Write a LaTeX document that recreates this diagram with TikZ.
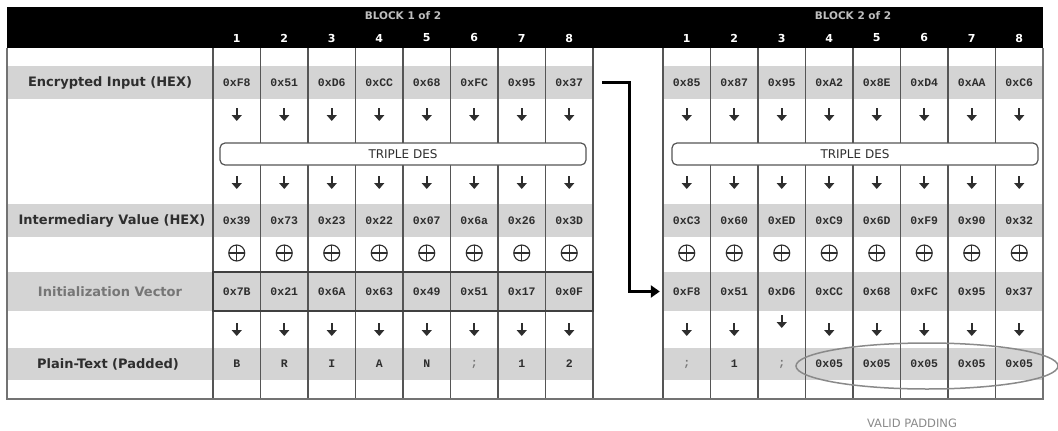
\documentclass[tikz,border=0pt]{standalone}
\usepackage{fontspec}
\setmainfont{DejaVu Sans}
\newfontfamily\hexfont{Liberation Mono}
\usetikzlibrary{arrows.meta}

\definecolor{bandgray}{HTML}{D4D4D4}
\definecolor{linegray}{HTML}{555555}
\definecolor{textgray}{HTML}{2E2E2E}
\definecolor{softgray}{HTML}{767676}
\definecolor{ringgray}{HTML}{8A8A8A}

\tikzset{
  cellval/.style={font=\hexfont\bfseries\fontsize{11.5}{12}\selectfont, text=textgray,
    minimum width=47.5, minimum height=33, inner sep=0pt},
  rowlabel/.style={font=\bfseries\fontsize{13}{14}\selectfont, text=textgray},
  blocktitle/.style={font=\bfseries\fontsize{10.5}{11}\selectfont, text=black!25},
  colnum/.style={font=\bfseries\fontsize{11}{12}\selectfont, text=white},
  desbox/.style={draw=linegray, line width=1.2pt, fill=white, rounded corners=5pt,
    minimum width=366, minimum height=22, inner sep=0pt,
    font=\fontsize{12}{13}\selectfont, text=textgray},
  dnarrow/.style={-{Triangle[width=10pt,length=6pt]}, line width=1.6pt, textgray},
  xorsym/.style={line width=1.1pt, textgray},
  gridline/.style={line width=1.4pt, linegray},
  bigarrow/.style={-{Triangle[width=12pt,length=9pt]}, line width=2.6pt, black}
}

\begin{document}
\begin{tikzpicture}[x=1pt,y=-1pt]
  \useasboundingbox (0,0) rectangle (1058,431);

  % Header bar
  \fill (7,7) rectangle (1043,48);
  \node[blocktitle] (title1) at (403,16) {BLOCK 1 of 2};
  \node[blocktitle] (title2) at (853,16) {BLOCK 2 of 2};
  \foreach \i in {1,...,8} {
    \node[colnum] (n1-\i) at ({213+47.5*(\i-0.5)},38) {\i};
    \node[colnum] (n2-\i) at ({663+47.5*(\i-0.5)},38) {\i};
  }

  % Grey bands of the data rows
  \foreach \top/\bot in {66/99, 204/237, 272/311, 348/380} {
    \fill[bandgray] (7,\top) rectangle (593,\bot);
    \fill[bandgray] (663,\top) rectangle (1043,\bot);
  }

  % Row labels
  \node[rowlabel] (lenc) at (110,82.5) {Encrypted Input (HEX)};
  \node[rowlabel] (lint) at (112,220.5) {Intermediary Value (HEX)};
  \node[rowlabel, text=softgray] (liv) at (110,291.5) {Initialization Vector};
  \node[rowlabel] (lpt) at (108,364) {Plain-Text (Padded)};

  % Block 1 values
  \foreach \v [count=\i] in {0xF8,0x51,0xD6,0xCC,0x68,0xFC,0x95,0x37}
    \node[cellval] (e1-\i) at ({213+47.5*(\i-0.5)},82.5) {\v};
  \foreach \v [count=\i] in {0x39,0x73,0x23,0x22,0x07,0x6a,0x26,0x3D}
    \node[cellval] (m1-\i) at ({213+47.5*(\i-0.5)},220.5) {\v};
  \foreach \v [count=\i] in {0x7B,0x21,0x6A,0x63,0x49,0x51,0x17,0x0F}
    \node[cellval] (v1-\i) at ({213+47.5*(\i-0.5)},291.5) {\v};
  \foreach \v [count=\i] in {B,R,I,A,N,\textcolor{softgray}{;},1,2}
    \node[cellval] (p1-\i) at ({213+47.5*(\i-0.5)},364) {\v};

  % Block 2 values
  \foreach \v [count=\i] in {0x85,0x87,0x95,0xA2,0x8E,0xD4,0xAA,0xC6}
    \node[cellval] (e2-\i) at ({663+47.5*(\i-0.5)},82.5) {\v};
  \foreach \v [count=\i] in {0xC3,0x60,0xED,0xC9,0x6D,0xF9,0x90,0x32}
    \node[cellval] (m2-\i) at ({663+47.5*(\i-0.5)},220.5) {\v};
  \foreach \v [count=\i] in {0xF8,0x51,0xD6,0xCC,0x68,0xFC,0x95,0x37}
    \node[cellval] (v2-\i) at ({663+47.5*(\i-0.5)},291.5) {\v};
  \foreach \v [count=\i] in {\textcolor{softgray}{;},1,\textcolor{softgray}{;},0x05,0x05,0x05,0x05,0x05}
    \node[cellval] (p2-\i) at ({663+47.5*(\i-0.5)},364) {\v};

  % Flow arrows and XOR signs
  \foreach \b in {213,663}
    \foreach \i in {1,...,8} {
      \pgfmathsetmacro\cx{\b+47.5*(\i-0.5)}
      \draw[dnarrow] (\cx,108) -- (\cx,121);
      \draw[dnarrow] (\cx,176) -- (\cx,189);
      \draw[xorsym] (\cx,253) circle[radius=8pt];
      \draw[xorsym] (\cx-8,253) -- (\cx+8,253) (\cx,245) -- (\cx,261);
    }
  \foreach \i in {1,...,8}
    \draw[dnarrow] ({213+47.5*(\i-0.5)},323) -- ({213+47.5*(\i-0.5)},336);
  \foreach \i in {1,2,4,5,6,7,8}
    \draw[dnarrow] ({663+47.5*(\i-0.5)},323) -- ({663+47.5*(\i-0.5)},336);
  \draw[dnarrow] (781.75,315) -- (781.75,328);

  % Grid and frame
  \foreach \k in {0,...,8} {
    \draw[gridline] ({213+47.5*\k},48) -- ({213+47.5*\k},399);
    \draw[gridline] ({663+47.5*\k},48) -- ({663+47.5*\k},399);
  }
  \draw[line width=2pt, black!55] (7,48) -- (7,399) -- (1043,399) -- (1043,48);
  \draw[line width=1.8pt, black!75] (213,272) rectangle (593,311);

  % Cipher boxes
  \node[desbox] (des1) at (403,154) {TRIPLE DES};
  \node[desbox] (des2) at (855,154) {TRIPLE DES};

  % Ciphertext of block 1 used as IV of block 2
  \draw[bigarrow, shorten <=9pt, shorten >=3pt] (e1-8.east) -- ++(36,0) |- (v2-1.west);

  % Padding mark
  \draw[ringgray, line width=1.5pt] (927,366) ellipse[x radius=131pt, y radius=23pt];
  \node[font=\fontsize{11.5}{12}\selectfont, text=ringgray] (validpad) at (912,423) {VALID PADDING};
\end{tikzpicture}
\end{document}
